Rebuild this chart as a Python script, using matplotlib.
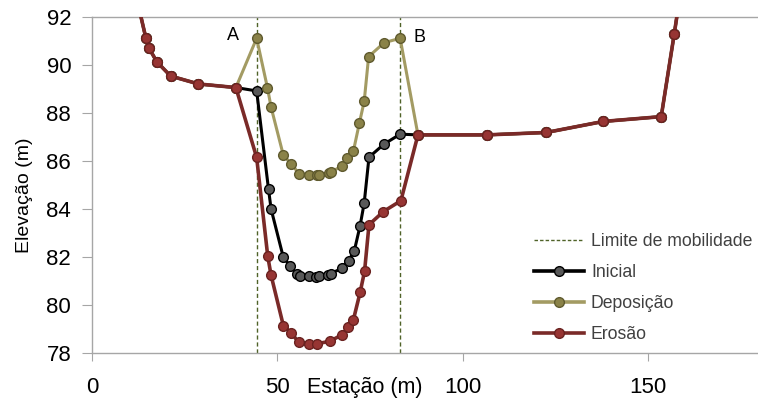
import matplotlib
matplotlib.use("Agg")
import matplotlib.pyplot as plt
from matplotlib.lines import Line2D

plt.rcParams['font.family'] = ['Liberation Sans', 'DejaVu Sans']

# perfil lateral comum (fora do canal)
left_x = [12.0, 14.5, 15.3, 17.5, 21.2, 28.7, 38.8]
left_y = [92.8, 91.13, 90.71, 90.12, 89.53, 89.2, 89.05]
right_x = [87.9, 106.5, 122.5, 137.9, 153.5, 157.0, 158.2]
right_y = [87.08, 87.08, 87.18, 87.64, 87.84, 91.27, 92.5]

# Inicial
ini_x = [44.4, 47.6, 48.3, 51.6, 53.4, 55.2, 56.1, 58.5, 60.4, 61.1, 63.6, 64.4,
         67.5, 69.2, 70.7, 72.3, 73.4, 74.7, 78.7, 83.1]
ini_y = [88.91, 84.82, 83.99, 81.98, 81.63, 81.29, 81.19, 81.19, 81.16, 81.19, 81.26, 81.3,
         81.54, 81.85, 82.23, 83.3, 84.24, 86.15, 86.69, 87.11]

# Deposicao
dep_x = [44.4, 47.3, 48.3, 51.6, 53.7, 55.8, 58.5, 60.6, 61.2, 64.0, 64.5, 67.5,
         68.9, 70.5, 72.1, 73.4, 74.6, 78.8, 83.1]
dep_y = [91.1, 89.05, 88.23, 86.23, 85.88, 85.47, 85.42, 85.42, 85.42, 85.49, 85.53, 85.8,
         86.11, 86.41, 87.57, 88.47, 90.34, 90.92, 91.1]

# Erosao
ero_x = [44.4, 47.4, 48.3, 51.6, 53.7, 55.7, 58.5, 60.8, 64.2, 67.4, 69.0, 70.5,
         72.3, 73.5, 74.7, 78.6, 83.3]
ero_y = [86.14, 82.02, 81.23, 79.14, 78.84, 78.45, 78.39, 78.39, 78.49, 78.76, 79.07, 79.39,
         80.52, 81.4, 83.34, 83.89, 84.34]

limites = [44.4, 83.1]

fig = plt.figure(figsize=(7.58, 4.04), dpi=100)
ax = fig.add_axes([92/758, 1-353/404, 666/758, 336.3/404])

grid_c = '#a6a6a6'
for x in limites:
    ax.axvline(x, color='#4f6228', ls=(0, (3, 2)), lw=1.0, zorder=1)

series = [
    (ini_x, ini_y, '#000000', '#595959', '#000000', 2.2),
    (dep_x, dep_y, '#a39b63', '#8a8248', '#5f5a2e', 2.2),
    (ero_x, ero_y, '#7a2a28', '#973533', '#6a2220', 2.6),
]
for xs, ys, lc, fc, ec, lw in series:
    ax.plot(left_x + xs + right_x, left_y + ys + right_y, color=lc, lw=lw,
            marker='o', ms=7, mfc=fc, mec=ec, mew=1.0, zorder=3)

ax.text(38.0, 91.2, 'A', fontsize=13, ha='center', va='center')
ax.text(88.2, 91.15, 'B', fontsize=13, ha='center', va='center')

ax.set_xlim(0, 179.6)
ax.set_ylim(78, 92)
ax.set_xticks([0, 50, 100, 150])
ax.set_yticks(range(78, 93, 2))

ax.spines['right'].set_visible(False)
for side in ['left', 'bottom', 'top']:
    ax.spines[side].set_color(grid_c)
    ax.spines[side].set_linewidth(1.0)

ax.tick_params(axis='x', length=6, color=grid_c, labelsize=16, pad=11)
ax.tick_params(axis='y', length=7, color=grid_c, labelsize=16, pad=8)

ax.set_xlabel('Estação (m)', fontsize=15.5)
ax.xaxis.set_label_coords((365-92)/666, -0.07)
ax.set_ylabel('Elevação (m)', fontsize=14)
ax.yaxis.set_label_coords(-0.089, 0.47)

handles = [
    Line2D([], [], color='#4f6228', ls=(0, (2.5, 1.5)), lw=1.0),
    Line2D([], [], color='#000000', lw=2.6, marker='o', ms=7, mfc='#595959', mec='#000000'),
    Line2D([], [], color='#a39b63', lw=2.6, marker='o', ms=7, mfc='#8a8248', mec='#5f5a2e'),
    Line2D([], [], color='#7a2a28', lw=2.6, marker='o', ms=7, mfc='#973533', mec='#6a2220'),
]
ax.legend(handles, ['Limite de mobilidade', 'Inicial', 'Deposição', 'Erosão'],
          loc='lower right', bbox_to_anchor=(1.006, 0.0), borderaxespad=0.15,
          frameon=False, fontsize=12.7, handlelength=2.85, handletextpad=0.4,
          labelspacing=0.8, labelcolor='#404040')

fig.savefig('out.png', dpi=100)
